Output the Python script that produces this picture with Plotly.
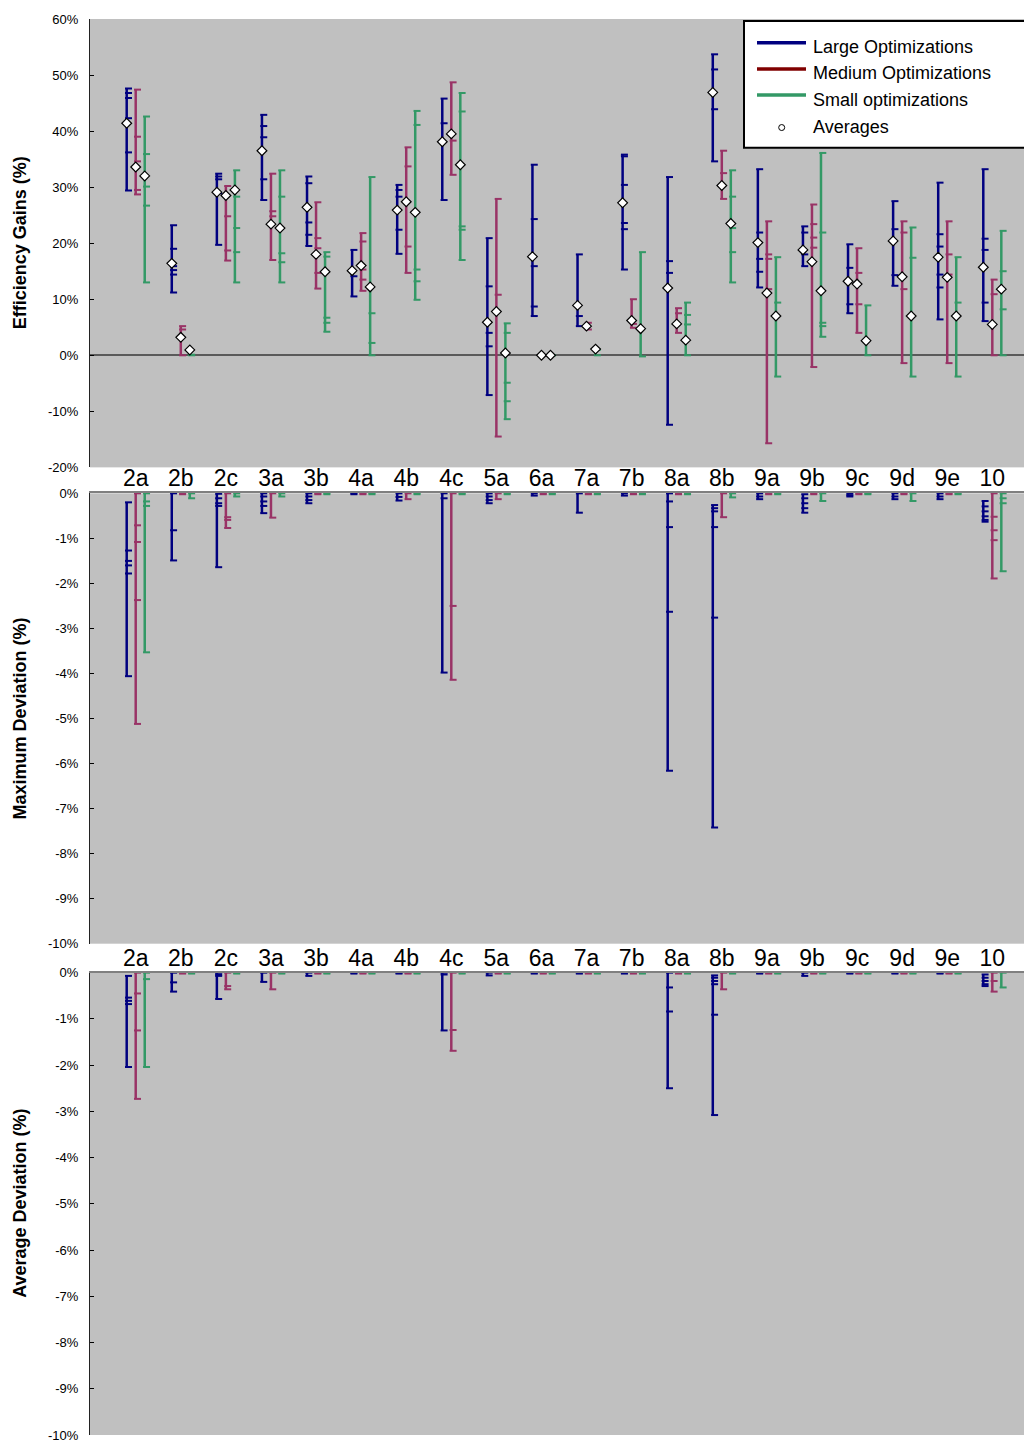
import plotly.graph_objects as go

CATEGORIES = ["2a", "2b", "2c", "3a", "3b", "4a", "4b", "4c", "5a", "6a",
              "7a", "7b", "8a", "8b", "9a", "9b", "9c", "9d", "9e", "10"]

SERIES_NAMES = ["Large Optimizations", "Medium Optimizations", "Small optimizations"]
AVERAGES_NAME = "Averages"

# ---- Efficiency gains (%) ----
GAIN_LARGE_HIGH = [47.6, 23.2, 32.4, 42.9, 31.9, 18.8, 30.4, 45.8, 20.9, 34.0,
                   18.0, 35.8, 31.8, 53.7, 33.2, 23.0, 19.8, 27.5, 30.8, 33.2]
GAIN_LARGE_LOW = [29.4, 11.2, 19.7, 27.7, 19.5, 10.5, 18.1, 27.7, -7.1, 7.0,
                  5.2, 15.3, -12.4, 34.6, 12.1, 15.9, 7.5, 12.4, 6.4, 6.1]
GAIN_LARGE_AVG = [41.4, 16.4, 29.1, 36.5, 26.4, 15.1, 25.9, 38.1, 5.9, 17.6,
                  8.9, 27.2, 12.0, 46.9, 20.1, 18.8, 13.2, 20.4, 17.5, 15.7]
GAIN_LARGE_RUNS = [[46.8, 45.9, 42.3, 36.2], [19.0, 15.9, 15.2, 14.4], [31.9, 31.4, 28.9],
                   [40.9, 38.9, 31.4], [30.7, 23.7, 21.5], [14.1], [29.5, 28.3, 22.4],
                   [41.4], [12.3, 4.0, 1.6], [24.3, 15.9, 8.7], [7.0],
                   [35.5, 30.4, 23.6, 22.5], [16.8, 14.7], [51.0, 43.9],
                   [21.9, 17.2, 14.9], [21.9, 18.0], [15.6, 9.1], [22.5, 14.3],
                   [21.6, 19.4, 14.4, 12.1], [20.8, 18.8, 9.4]]

GAIN_MEDIUM_HIGH = [47.4, 5.2, 30.2, 32.4, 27.3, 21.8, 37.1, 48.7, 27.9, 0.0,
                    5.8, 10.0, 8.4, 36.5, 23.9, 26.9, 19.1, 23.9, 23.9, 13.5]
GAIN_MEDIUM_LOW = [28.7, 0.0, 16.9, 17.0, 11.9, 11.5, 14.7, 32.2, -14.5, 0.0,
                   4.6, 4.9, 4.0, 27.9, -15.7, -2.1, 4.0, -1.4, -1.4, 0.0]
GAIN_MEDIUM_AVG = [33.6, 3.2, 28.5, 23.4, 18.0, 16.0, 27.4, 39.5, 7.8, 0.0,
                   5.2, 6.2, 5.6, 30.3, 11.1, 16.7, 12.7, 14.0, 13.9, 5.5]
GAIN_MEDIUM_RUNS = [[39.0, 34.6, 29.5], [4.6], [24.8, 18.7], [25.7, 24.8],
                    [20.9, 19.1, 14.7], [20.3, 15.3, 13.5], [33.7, 19.4], [38.3],
                    [10.8], [], [], [5.6], [7.5], [32.5], [18.0, 17.2, 11.8],
                    [23.4, 21.0, 19.2], [14.7, 9.1], [21.9, 11.8], [18.0, 14.4], [10.9]]

GAIN_SMALL_HIGH = [42.6, 0.1, 33.0, 33.0, 18.4, 31.8, 43.6, 46.8, 5.7, 0.0,
                   1.0, 18.4, 9.4, 33.0, 17.5, 36.1, 8.9, 22.8, 17.5, 22.2]
GAIN_SMALL_LOW = [13.0, 0.0, 13.0, 13.0, 4.2, 0.0, 9.9, 17.0, -11.4, 0.0,
                  0.0, -0.2, 0.0, 13.0, -3.8, 3.3, 0.0, -3.8, -3.8, 0.0]
GAIN_SMALL_AVG = [32.0, 0.95, 29.5, 22.7, 14.9, 12.2, 25.5, 34.0, 0.4, 0.0,
                  1.1, 4.75, 2.7, 23.5, 7.0, 11.5, 2.6, 7.0, 7.0, 11.8]
GAIN_SMALL_RUNS = [[35.9, 30.1, 26.7], [], [28.3, 22.7, 18.4], [28.3, 18.2, 16.6],
                   [17.6, 6.7, 5.8], [7.5, 2.2], [41.1, 15.3, 13.2], [43.5, 23.0, 22.4],
                   [4.0, -4.9, -8.2], [], [], [], [7.2, 5.5], [28.3, 22.7, 18.4],
                   [9.4], [21.9, 5.8, 5.2], [], [17.4], [9.4], [15.0, 8.2]]

# ---- Maximum deviation (%) ----
MAXDEV_LARGE_HIGH = [-0.2, 0, -0.01, 0, 0, 0, 0, 0, 0, 0,
                     0, 0, 0, -0.26, 0, -0.02, 0, 0, 0, -0.17]
MAXDEV_LARGE_LOW = [-4.06, -1.49, -1.64, -0.44, -0.22, -0.02, -0.16, -3.98, -0.22, -0.05,
                    -0.43, -0.05, -6.16, -7.42, -0.13, -0.43, -0.07, -0.13, -0.13, -0.63]
MAXDEV_LARGE_RUNS = [[-1.27, -1.5, -1.6, -1.78], [-0.82], [-0.11, -0.22, -0.28],
                     [-0.07, -0.18, -0.28], [-0.07, -0.15], [], [-0.08], [-0.11],
                     [-0.07, -0.15], [], [], [], [-0.18, -0.75, -2.63],
                     [-0.33, -0.40, -0.75, -2.76], [-0.07], [-0.11, -0.22, -0.33],
                     [-0.04], [-0.07], [-0.07], [-0.29, -0.40, -0.51, -0.59]]

MAXDEV_MEDIUM_HIGH = [0] * 20
MAXDEV_MEDIUM_LOW = [-5.12, -0.02, -0.77, -0.54, -0.02, -0.02, -0.13, -4.14, -0.13, -0.02,
                     -0.02, -0.02, -0.02, -0.53, -0.02, -0.02, -0.02, -0.02, -0.02, -1.89]
MAXDEV_MEDIUM_RUNS = [[-0.71, -1.08, -2.37], [], [-0.53, -0.59], [], [], [], [], [-2.50],
                      [], [], [], [], [], [], [], [], [], [], [], [-0.52, -0.82, -1.04]]

MAXDEV_SMALL_HIGH = [0] * 20
MAXDEV_SMALL_LOW = [-3.53, -0.11, -0.07, -0.07, -0.02, -0.02, -0.02, -0.02, -0.02, -0.02,
                    -0.02, -0.02, -0.02, -0.09, -0.02, -0.17, -0.02, -0.17, -0.02, -1.73]
MAXDEV_SMALL_RUNS = [[-0.18, -0.28], [], [], [], [], [], [], [], [], [],
                     [], [], [], [], [], [], [], [], [], [-0.11, -0.22]]

# ---- Average deviation (%) ----
AVGDEV_LARGE_HIGH = [-0.07, 0, 0, 0, 0, 0, 0, 0, 0, 0,
                     0, 0, 0, -0.06, 0, 0, 0, 0, 0, -0.04]
AVGDEV_LARGE_LOW = [-2.04, -0.41, -0.57, -0.2, -0.07, -0.02, -0.02, -1.25, -0.06, -0.02,
                    -0.02, -0.02, -2.5, -3.08, -0.02, -0.07, -0.02, -0.02, -0.02, -0.29]
AVGDEV_LARGE_RUNS = [[-0.54, -0.61, -0.68], [-0.21], [-0.04, -0.07], [], [], [], [], [-0.04],
                     [], [], [], [], [-0.32, -0.84], [-0.11, -0.18, -0.25, -0.91],
                     [], [], [], [], [], [-0.11, -0.18, -0.25]]

AVGDEV_MEDIUM_HIGH = [0] * 20
AVGDEV_MEDIUM_LOW = [-2.73, -0.02, -0.36, -0.36, -0.02, -0.02, -0.02, -1.69, -0.02, -0.02,
                     -0.02, -0.02, -0.02, -0.36, -0.02, -0.02, -0.02, -0.02, -0.02, -0.41]
AVGDEV_MEDIUM_RUNS = [[-0.45, -1.25], [], [-0.29], [], [], [], [], [-1.24],
                      [], [], [], [], [], [], [], [], [], [], [], [-0.18]]

AVGDEV_SMALL_HIGH = [0] * 20
AVGDEV_SMALL_LOW = [-2.04, -0.02, -0.02, -0.02, -0.02, -0.02, -0.02, -0.02, -0.02, -0.02,
                    -0.02, -0.02, -0.02, -0.02, -0.02, -0.02, -0.02, -0.02, -0.02, -0.32]
AVGDEV_SMALL_RUNS = [[-0.14], [], [], [], [], [], [], [], [], [],
                     [], [], [], [], [], [], [], [], [], []]

GAIN_TICKS = [-20, -10, 0, 10, 20, 30, 40, 50, 60]
DEV_TICKS = [-10, -9, -8, -7, -6, -5, -4, -3, -2, -1, 0]

# ---- styling ----
COLORS = ["#000080", "#993366", "#339966"]
LEGEND_COLORS = ["#000080", "#800000", "#339966"]
OFFSETS = [-0.2, 0.0, 0.2]
TICK_SHIFT = 0.04
FONT = "Liberation Sans"
PANEL_BG = "#C0C0C0"

W, H = 1024, 1443
M_L, M_R, M_T, M_B = 90, 0, 19, 6
PLOT_W = W - M_L - M_R
PLOT_H = H - M_T - M_B


def fy(py):
    """Paper fraction for a pixel row."""
    return (H - M_B - py) / PLOT_H


def fx(px):
    """Paper fraction for a pixel column."""
    return (px - M_L) / PLOT_W


fig = go.Figure()


def add_series(xa, ya, lows, highs, runs, offset, color):
    xs, ys = [], []
    for i, (lo, hi) in enumerate(zip(lows, highs)):
        p = i + 1 + offset
        xs += [p, p, None]
        ys += [lo, hi, None]
    fig.add_trace(go.Scatter(x=xs, y=ys, mode="lines", xaxis=xa, yaxis=ya,
                             line=dict(color=color, width=2.5),
                             showlegend=False, hoverinfo="skip"))
    tx, ty = [], []
    for i, (lo, hi, rr) in enumerate(zip(lows, highs, runs)):
        p = i + 1 + offset + TICK_SHIFT
        for v in [lo, hi] + list(rr):
            tx.append(p)
            ty.append(v)
    fig.add_trace(go.Scatter(x=tx, y=ty, mode="markers", xaxis=xa, yaxis=ya,
                             marker=dict(symbol="line-ew", size=5,
                                         line=dict(color=color, width=2)),
                             cliponaxis=False, showlegend=False, hoverinfo="skip"))


panels = [
    ("x", "y", [(GAIN_LARGE_LOW, GAIN_LARGE_HIGH, GAIN_LARGE_RUNS),
                (GAIN_MEDIUM_LOW, GAIN_MEDIUM_HIGH, GAIN_MEDIUM_RUNS),
                (GAIN_SMALL_LOW, GAIN_SMALL_HIGH, GAIN_SMALL_RUNS)]),
    ("x2", "y2", [(MAXDEV_LARGE_LOW, MAXDEV_LARGE_HIGH, MAXDEV_LARGE_RUNS),
                  (MAXDEV_MEDIUM_LOW, MAXDEV_MEDIUM_HIGH, MAXDEV_MEDIUM_RUNS),
                  (MAXDEV_SMALL_LOW, MAXDEV_SMALL_HIGH, MAXDEV_SMALL_RUNS)]),
    ("x3", "y3", [(AVGDEV_LARGE_LOW, AVGDEV_LARGE_HIGH, AVGDEV_LARGE_RUNS),
                  (AVGDEV_MEDIUM_LOW, AVGDEV_MEDIUM_HIGH, AVGDEV_MEDIUM_RUNS),
                  (AVGDEV_SMALL_LOW, AVGDEV_SMALL_HIGH, AVGDEV_SMALL_RUNS)]),
]

for xa, ya, series in panels:
    for (lo, hi, rr), off, col in zip(series, OFFSETS, COLORS):
        add_series(xa, ya, lo, hi, rr, off, col)

# averages as diamonds on the efficiency panel
for avg, off in zip([GAIN_LARGE_AVG, GAIN_MEDIUM_AVG, GAIN_SMALL_AVG], OFFSETS):
    fig.add_trace(go.Scatter(
        x=[i + 1 + off for i in range(len(avg))], y=avg, mode="markers",
        marker=dict(symbol="diamond", size=7.5, color="white",
                    line=dict(color="black", width=1.2)),
        cliponaxis=False, showlegend=False, hoverinfo="skip"))

X_RANGE = [-0.014, 20.703]
cat_pos = [i + 1 for i in range(len(CATEGORIES))]

common_x = dict(range=X_RANGE, showgrid=False, zeroline=False, fixedrange=True)
cat_axis = dict(side="top", tickvals=cat_pos, ticktext=CATEGORIES, ticks="",
                showline=True, linecolor="#808080", linewidth=1.5,
                ticklabelstandoff=-4,
                tickfont=dict(family=FONT, size=23, color="black"))
fig.update_layout(
    xaxis=dict(**common_x, anchor="y", showticklabels=False, showline=False, ticks=""),
    xaxis2=dict(**common_x, **cat_axis, anchor="y2"),
    xaxis3=dict(**common_x, **cat_axis, anchor="y3"),
)

common_y = dict(showgrid=False, ticks="inside", ticklen=4, tickcolor="black",
                showline=True, linecolor="#222222", linewidth=1,
                tickfont=dict(family=FONT, size=13, color="black"),
                ticklabelstandoff=8, fixedrange=True)
fig.update_layout(
    yaxis=dict(**common_y, domain=[fy(468), fy(19)], range=[-20, 60],
               tickvals=GAIN_TICKS, ticktext=[f"{v}%" for v in GAIN_TICKS],
               zeroline=True, zerolinecolor="#5a5a5a", zerolinewidth=1.5),
    yaxis2=dict(**common_y, domain=[fy(945), fy(494)], range=[-10, 0],
                tickvals=DEV_TICKS, ticktext=[f"{v}%" for v in DEV_TICKS], zeroline=False),
    yaxis3=dict(**common_y, domain=[fy(1437), fy(974)], range=[-10, 0],
                tickvals=DEV_TICKS, ticktext=[f"{v}%" for v in DEV_TICKS], zeroline=False),
)

# panel titles on the left
annotations = []
for yref, title in [("y domain", "Efficiency Gains (%)"),
                    ("y2 domain", "Maximum Deviation (%)"),
                    ("y3 domain", "Average Deviation (%)")]:
    annotations.append(dict(text=f"<b>{title}</b>", xref="paper", yref=yref,
                            x=fx(20), y=0.5, xanchor="center", yanchor="middle",
                            textangle=-90, showarrow=False,
                            font=dict(family=FONT, size=18, color="black")))

# legend box
shapes = [dict(type="rect", xref="paper", yref="paper",
               x0=fx(744), x1=fx(1040), y0=fy(148), y1=fy(21),
               line=dict(color="black", width=2), fillcolor="white", layer="above")]
legend_rows = [42.7, 69.0, 95.0]
for row, col in zip(legend_rows, LEGEND_COLORS):
    shapes.append(dict(type="line", xref="paper", yref="paper",
                       x0=fx(757), x1=fx(806), y0=fy(row), y1=fy(row),
                       line=dict(color=col, width=3.5), layer="above"))
shapes.append(dict(type="circle", xref="paper", yref="paper",
                   xsizemode="pixel", ysizemode="pixel",
                   xanchor=fx(781.7), yanchor=fy(127.7),
                   x0=-3, x1=3, y0=-3, y1=3,
                   line=dict(color="black", width=1), fillcolor="white", layer="above"))

text_rows = [46.7, 73.3, 100.0, 127.3]
for row, name in zip(text_rows, SERIES_NAMES + [AVERAGES_NAME]):
    annotations.append(dict(text=name, xref="paper", yref="paper",
                            x=fx(811), y=fy(row), xanchor="left", yanchor="middle",
                            showarrow=False,
                            font=dict(family=FONT, size=18, color="black")))

fig.update_layout(
    width=W, height=H,
    margin=dict(l=M_L, r=M_R, t=M_T, b=M_B, pad=0),
    paper_bgcolor="white", plot_bgcolor=PANEL_BG,
    showlegend=False,
    shapes=shapes, annotations=annotations,
    font=dict(family=FONT, color="black"),
)

fig.write_html("out.html", config={"displayModeBar": False})
